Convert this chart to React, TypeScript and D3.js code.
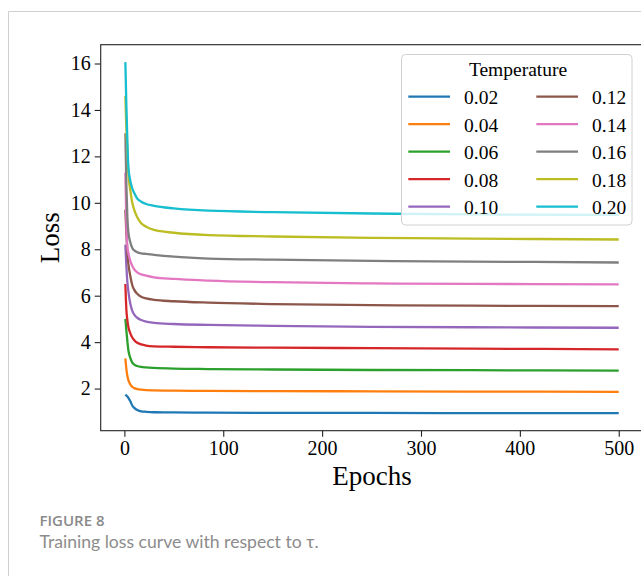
import React, { useEffect, useRef } from "react";
import * as d3 from "d3";

const epochs = [1, 2, 3, 4, 6, 8, 10, 13, 17, 22, 30, 50, 85, 150, 250, 350, 500];

const temperatures = ["0.02", "0.04", "0.06", "0.08", "0.10", "0.12", "0.14", "0.16", "0.18", "0.20"];

const loss002 = [1.74, 1.7, 1.66, 1.6, 1.45, 1.27, 1.17, 1.08, 1.02, 1.0, 0.98, 0.97, 0.96, 0.95, 0.95, 0.94, 0.94];
const loss004 = [3.3, 2.85, 2.55, 2.37, 2.18, 2.07, 2.02, 1.98, 1.95, 1.93, 1.92, 1.91, 1.9, 1.89, 1.88, 1.87, 1.86];
const loss006 = [5.0, 4.5, 4.05, 3.66, 3.32, 3.12, 3.03, 2.97, 2.93, 2.91, 2.89, 2.86, 2.84, 2.82, 2.8, 2.79, 2.77];
const loss008 = [6.5, 5.4, 4.95, 4.66, 4.38, 4.2, 4.08, 3.97, 3.9, 3.85, 3.82, 3.8, 3.78, 3.76, 3.74, 3.72, 3.69];
const loss010 = [8.2, 7.3, 6.6, 6.2, 5.65, 5.35, 5.18, 5.05, 4.95, 4.88, 4.83, 4.78, 4.74, 4.7, 4.66, 4.64, 4.62];
const loss012 = [9.7, 8.7, 7.9, 7.39, 6.85, 6.45, 6.25, 6.08, 5.95, 5.88, 5.82, 5.76, 5.7, 5.64, 5.59, 5.57, 5.55];
const loss014 = [11.3, 9.2, 8.1, 7.85, 7.5, 7.28, 7.13, 7.0, 6.92, 6.86, 6.79, 6.72, 6.65, 6.58, 6.53, 6.51, 6.49];
const loss016 = [13.0, 10.8, 9.4, 8.75, 8.3, 8.05, 7.95, 7.87, 7.82, 7.8, 7.76, 7.68, 7.6, 7.55, 7.5, 7.47, 7.43];
const loss018 = [14.6, 13.2, 12.3, 11.3, 10.55, 10.0, 9.7, 9.38, 9.12, 8.97, 8.83, 8.71, 8.61, 8.55, 8.49, 8.46, 8.42];
const loss020 = [16.06, 14.2, 12.7, 11.55, 10.95, 10.62, 10.42, 10.18, 10.05, 9.95, 9.87, 9.76, 9.66, 9.6, 9.54, 9.5, 9.48];

const series = [loss002, loss004, loss006, loss008, loss010, loss012, loss014, loss016, loss018, loss020];

const xTicks = [0, 100, 200, 300, 400, 500];
const yTicks = [2, 4, 6, 8, 10, 12, 14, 16];

const colors = d3.schemeCategory10;

const App = () => {
  const ref = useRef<SVGSVGElement>(null);

  useEffect(() => {
    const svg = d3.select(ref.current);
    svg.selectAll("*").remove();

    const left = 100.7, top = 44.7, bottom = 430.7, right = 643.4;
    const serif = "'Liberation Serif', 'Times New Roman', serif";

    // page frame
    svg.append("path")
      .attr("d", "M8.5,576V11.5H641")
      .attr("fill", "none")
      .attr("stroke", "#cfcfcf")
      .attr("stroke-width", 1);

    const x = d3.scaleLinear().domain([-23.95, 524.95]).range([left, right]);
    const y = d3.scaleLinear().domain([0.185, 16.81]).range([bottom, top]);

    const chart = svg.append("g");

    const line = d3.line<number>()
      .x((_, i) => x(epochs[i]))
      .y((d) => y(d))
      .curve(d3.curveMonotoneX);

    chart.selectAll(".loss")
      .data(series)
      .enter().append("path")
      .attr("class", "loss")
      .attr("d", (d) => line(d))
      .attr("fill", "none")
      .attr("stroke", (_, i) => colors[i])
      .attr("stroke-width", 2.3)
      .attr("stroke-linejoin", "round");

    // axes
    const xAxis = chart.append("g")
      .attr("transform", `translate(0, ${bottom})`)
      .call(d3.axisBottom(x).tickValues(xTicks).tickSize(6).tickPadding(4).tickFormat(d3.format("d")));
    const yAxis = chart.append("g")
      .attr("transform", `translate(${left}, 0)`)
      .call(d3.axisLeft(y).tickValues(yTicks).tickSize(6).tickPadding(4).tickFormat(d3.format("d")));

    [xAxis, yAxis].forEach((g) => {
      g.attr("font-family", serif).attr("font-size", 20);
      g.select(".domain").remove();
      g.selectAll(".tick line").attr("stroke", "#222").attr("stroke-width", 1.1);
      g.selectAll(".tick text").attr("fill", "#000");
    });

    chart.append("rect")
      .attr("x", left)
      .attr("y", top)
      .attr("width", right - left)
      .attr("height", bottom - top)
      .attr("fill", "none")
      .attr("stroke", "#222")
      .attr("stroke-width", 1.1);

    chart.append("text")
      .attr("x", (left + right) / 2)
      .attr("y", 485)
      .attr("text-anchor", "middle")
      .attr("font-family", serif)
      .attr("font-size", 27)
      .text("Epochs");

    chart.append("text")
      .attr("transform", `translate(59, ${(top + bottom) / 2}) rotate(-90)`)
      .attr("text-anchor", "middle")
      .attr("font-family", serif)
      .attr("font-size", 27)
      .text("Loss");

    // legend
    const legend = svg.append("g")
      .attr("font-family", serif)
      .attr("font-size", 19.5);

    legend.append("rect")
      .attr("x", 401.5)
      .attr("y", 54.5)
      .attr("width", 230.5)
      .attr("height", 170.5)
      .attr("rx", 4)
      .attr("fill", "white")
      .attr("fill-opacity", 0.8)
      .attr("stroke", "#d0d0d0")
      .attr("stroke-width", 1);

    legend.append("text")
      .attr("x", 518)
      .attr("y", 76)
      .attr("text-anchor", "middle")
      .text("Temperature");

    const item = legend.selectAll(".item")
      .data(temperatures)
      .enter().append("g")
      .attr("class", "item")
      .attr("transform", (_, i) => `translate(${i < 5 ? 0 : 128}, ${96.7 + (i % 5) * 27.5})`);

    item.append("line")
      .attr("x1", 408.3)
      .attr("x2", 450)
      .attr("stroke", (_, i) => colors[i])
      .attr("stroke-width", 2.3);

    item.append("text")
      .attr("x", 464)
      .attr("y", 7.3)
      .text((d) => d);

    // caption
    svg.append("text")
      .attr("x", 39.5)
      .attr("y", 525.7)
      .attr("fill", "#8a8a8a")
      .attr("font-family", "'Open Sans', sans-serif")
      .attr("font-weight", 600)
      .attr("font-size", 15)
      .text("FIGURE 8");

    svg.append("text")
      .attr("x", 39.5)
      .attr("y", 548.3)
      .attr("fill", "#8c8c8c")
      .attr("font-family", "Lato, sans-serif")
      .attr("font-size", 17.6)
      .text("Training loss curve with respect to τ.");
  }, []);

  return (
    <div style={{ position: "fixed", left: 0, top: 0 }}>
      <svg ref={ref} width={641} height={576} style={{ display: "block", background: "white" }}></svg>
    </div>
  );
};

export default App;
